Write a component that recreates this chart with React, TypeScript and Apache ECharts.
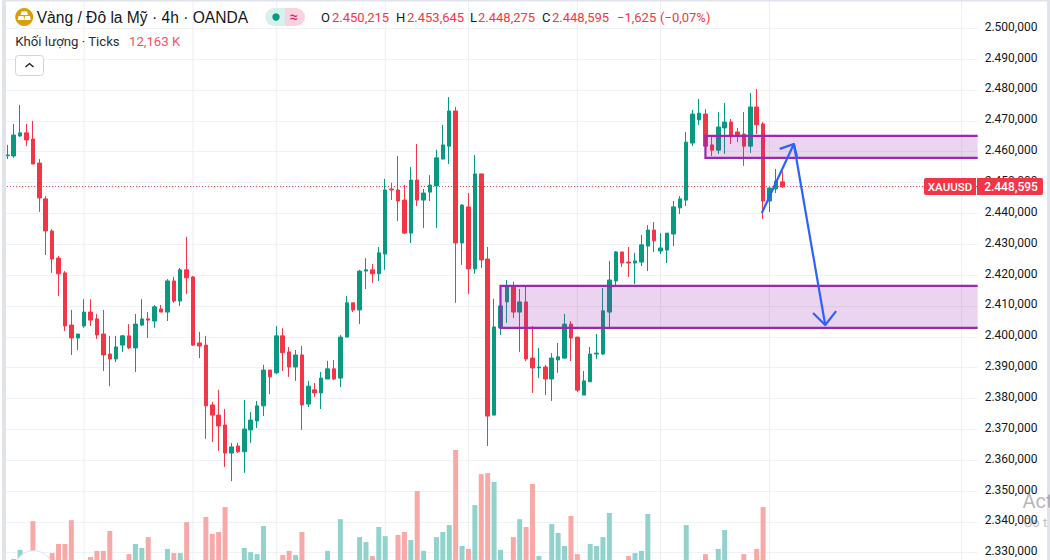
import React, { useEffect, useRef } from "react";
import * as echarts from "echarts";

const opens = [
  2458.7, 2458.6, 2465.1, 2466.1, 2464.1, 2456.3, 2444.7, 2434.3, 2425.5, 2420.7,
  2403.8, 2399.6, 2403.5, 2408.0, 2405.8, 2400.9, 2394.4, 2392.8, 2397.3, 2400.3,
  2396.4, 2403.8, 2405.8, 2405.1, 2409.0, 2408.0, 2418.1, 2411.6, 2421.7, 2419.4,
  2398.0, 2397.3, 2377.9, 2374.6, 2371.4, 2362.3, 2364.6, 2362.7, 2369.8, 2372.7,
  2377.6, 2389.2, 2388.3, 2400.3, 2395.1, 2390.2, 2394.1, 2378.2, 2382.8, 2381.8,
  2386.3, 2389.6, 2386.6, 2399.9, 2411.0, 2408.7, 2421.3, 2421.7, 2420.4, 2426.8,
  2447.9, 2447.6, 2444.3, 2433.6, 2450.8, 2444.3, 2446.9, 2448.9, 2457.6, 2461.8,
  2473.2, 2430.4, 2442.1, 2422.0, 2452.8, 2425.2, 2374.6, 2402.9, 2411.3, 2416.1,
  2408.0, 2411.3, 2393.1, 2389.9, 2390.2, 2386.3, 2392.5, 2393.1, 2404.1, 2399.9,
  2381.1, 2385.4, 2394.4, 2394.4, 2408.0, 2418.1, 2427.5, 2424.2, 2423.9, 2424.2,
  2429.4, 2434.6, 2427.8, 2428.1, 2433.3, 2441.8, 2444.3, 2462.8, 2470.3, 2472.2,
  2462.2, 2460.5, 2467.7, 2469.6, 2466.4, 2465.7, 2461.8, 2474.5, 2469.0, 2444.0,
  2447.9, 2450.215,
];
const closes = [
  2458.9, 2465.4, 2466.1, 2463.8, 2456.0, 2445.0, 2434.3, 2425.2, 2420.4, 2403.5,
  2399.6, 2400.9, 2408.0, 2405.4, 2400.6, 2394.1, 2392.8, 2396.7, 2400.3, 2396.4,
  2404.1, 2405.8, 2405.4, 2409.7, 2408.0, 2418.1, 2411.6, 2421.7, 2419.1, 2397.3,
  2397.0, 2377.6, 2374.6, 2371.1, 2362.3, 2364.3, 2362.7, 2370.1, 2373.0, 2377.6,
  2389.2, 2387.0, 2400.3, 2394.8, 2390.2, 2394.1, 2377.9, 2384.0, 2381.8, 2386.6,
  2389.6, 2386.3, 2399.9, 2411.0, 2408.7, 2421.3, 2421.7, 2420.4, 2427.2, 2447.6,
  2447.6, 2444.0, 2433.6, 2450.8, 2444.3, 2446.6, 2449.2, 2458.0, 2462.2, 2473.2,
  2430.4, 2442.7, 2422.0, 2452.8, 2424.9, 2374.3, 2403.2, 2410.0, 2416.1, 2408.0,
  2411.3, 2392.8, 2389.9, 2390.2, 2386.3, 2393.1, 2393.5, 2404.1, 2399.6, 2382.7,
  2385.7, 2394.4, 2394.7, 2408.4, 2418.4, 2427.5, 2423.9, 2423.9, 2424.6, 2429.8,
  2434.6, 2431.1, 2428.8, 2433.6, 2442.1, 2444.7, 2463.1, 2472.2, 2472.5, 2461.8,
  2460.5, 2468.0, 2469.6, 2464.8, 2465.1, 2461.8, 2474.5, 2468.7, 2444.0, 2448.2,
  2450.5, 2448.595,
];
const lows = [
  2457.6, 2458.0, 2464.8, 2461.8, 2456.0, 2440.5, 2426.5, 2420.7, 2413.2, 2401.9,
  2394.1, 2395.7, 2402.9, 2403.5, 2399.3, 2388.9, 2384.0, 2391.8, 2395.1, 2396.0,
  2388.6, 2403.5, 2399.6, 2402.9, 2408.0, 2405.1, 2411.0, 2410.0, 2413.9, 2397.0,
  2393.1, 2366.9, 2365.9, 2363.0, 2357.8, 2353.2, 2362.3, 2355.9, 2365.6, 2370.4,
  2374.3, 2381.4, 2387.9, 2388.9, 2387.0, 2385.7, 2369.8, 2377.2, 2380.5, 2376.6,
  2386.3, 2386.0, 2383.7, 2399.9, 2408.0, 2404.1, 2415.5, 2417.4, 2418.1, 2421.7,
  2444.3, 2437.5, 2433.3, 2430.4, 2442.4, 2435.3, 2444.0, 2435.3, 2457.6, 2456.0,
  2411.0, 2423.3, 2413.9, 2420.4, 2422.3, 2364.6, 2374.6, 2400.6, 2404.5, 2406.1,
  2395.1, 2392.1, 2381.8, 2386.6, 2381.1, 2379.2, 2388.3, 2392.8, 2392.1, 2382.1,
  2381.1, 2385.4, 2392.8, 2394.1, 2402.5, 2416.2, 2422.6, 2419.4, 2417.1, 2422.9,
  2421.3, 2427.5, 2426.8, 2423.9, 2429.4, 2439.8, 2442.4, 2461.8, 2468.6, 2461.8,
  2458.6, 2459.3, 2459.3, 2462.5, 2463.1, 2455.4, 2459.6, 2465.7, 2438.2, 2440.4,
  2446.6, 2448.275,
];
const highs = [
  2462.2, 2469.0, 2475.1, 2469.0, 2470.0, 2457.6, 2445.6, 2434.9, 2426.2, 2421.3,
  2408.7, 2400.9, 2412.2, 2412.2, 2407.4, 2408.7, 2400.3, 2400.3, 2400.6, 2404.1,
  2407.4, 2412.2, 2408.0, 2410.3, 2410.3, 2418.7, 2419.4, 2422.3, 2432.4, 2419.7,
  2401.6, 2400.3, 2378.9, 2382.8, 2376.6, 2365.6, 2365.6, 2379.5, 2375.6, 2379.2,
  2390.9, 2389.2, 2403.5, 2402.8, 2396.7, 2395.7, 2397.0, 2385.7, 2385.0, 2388.6,
  2392.2, 2392.5, 2400.6, 2413.2, 2411.0, 2421.7, 2425.5, 2423.6, 2429.1, 2451.2,
  2449.9, 2458.6, 2449.2, 2455.0, 2462.5, 2447.9, 2452.4, 2460.6, 2468.7, 2477.7,
  2474.5, 2443.0, 2446.6, 2458.9, 2452.8, 2429.1, 2412.3, 2413.2, 2418.4, 2417.8,
  2415.5, 2416.5, 2403.5, 2396.4, 2390.9, 2394.7, 2398.0, 2407.4, 2405.1, 2399.9,
  2388.9, 2396.7, 2400.9, 2415.8, 2424.6, 2427.8, 2427.5, 2429.1, 2427.2, 2433.0,
  2436.2, 2437.2, 2433.6, 2433.6, 2444.0, 2445.6, 2466.4, 2473.5, 2477.1, 2473.8,
  2465.1, 2472.9, 2475.8, 2470.6, 2467.7, 2472.9, 2479.0, 2480.3, 2469.6, 2448.6,
  2454.4, 2453.645,
];
const volumes = [
  16, 20.7, 24.4, 23.1, 36.1, 23.5, 21.9, 23.1, 26.8, 26.8,
  36.5, 15, 17, 21.5, 24.0, 24.0, 32.1, 18, 19, 22.7,
  26.8, 25.2, 29.6, 18, 16, 24.8, 23.1, 23.1, 35.7, 19,
  16, 37.8, 30.9, 31.7, 41.8, 18, 17, 25.2, 23.5, 22.7,
  34.1, 14, 19, 22.3, 24.0, 22.3, 31.7, 19, 13, 18,
  24.0, 14, 36.9, 20, 12, 29.6, 27.6, 21.9, 33.7, 30.0,
  15, 30.5, 31.7, 28.4, 48.3, 24.0, 19, 29.6, 31.7, 34.5,
  65.0, 26.0, 24.8, 42.6, 55.2, 55.6, 52.0, 24.4, 19, 29.6,
  36.9, 33.7, 51.2, 21.9, 18, 34.9, 31.3, 26.0, 38.2, 22.7,
  17, 26.8, 26.0, 29.6, 39.4, 16, 14, 21.9, 23.1, 24.0,
  39.0, 15, 12, 13, 16, 14, 34.5, 18, 15, 22.7,
  13, 24.8, 32.5, 15, 13, 22.7, 19, 24.8, 41.8, 17,
  14, 12.163,
];

const BAR_SLOTS = 152;
const categories = Array.from({ length: BAR_SLOTS }, (_, i) => String(i));
const timeGridBars = [12, 29, 42, 59, 72, 89, 102, 119, 149];

const zoneStarts = [77, 109];
const zoneTops = [2416.5, 2465.1];
const zoneBottoms = [2402.9, 2458.0];

const arrowStrokes: number[][][] = [
  [[117.8, 2440.1], [122.8, 2462.5]],
  [[120.6, 2460.9], [122.8, 2462.5], [123.3, 2458.3]],
  [[122.8, 2462.5], [127.7, 2403.8]],
  [[125.8, 2407.7], [127.7, 2403.8], [129.4, 2408.3]],
];

const symbolTitle = "Vàng / Đô la Mỹ · 4h · OANDA";
const volumeTitle = "Khối lượng · Ticks";
const volumeLast = "12,163 K";
const changeText = "−1,625";
const changePctText = "(−0,07%)";
const tickerTag = "XAUUSD";

const RED = "#f23645";
const GREEN = "#089981";
const INK = "#131722";
const FRAME = "#e0e3eb";
const FONT = "Roboto, sans-serif";

function priceText(v: number): string {
  const [a, b] = v.toFixed(3).split(".");
  return a.slice(0, -3) + "." + a.slice(-3) + "," + b;
}

const last = opens.length - 1;

function label(x: number, y: number, text: string, fill: string, size = 13, extra: any = {}) {
  return {
    type: "text",
    x,
    y,
    z: 50,
    silent: true,
    style: { text, fill, font: `${size}px ${FONT}`, verticalAlign: "middle", ...extra },
  };
}

export default function App() {
  const ref = useRef<HTMLDivElement>(null);
  useEffect(() => {
    const chart = echarts.init(ref.current!, undefined, { renderer: "svg" });
    const ohlc = opens.map((o, i) => [o, closes[i], lows[i], highs[i]]);

    const lerpPoint = (api: any, idx: number, price: number) => {
      const base = Math.floor(idx);
      const a = api.coord([base, price]);
      const b = api.coord([base + 1, price]);
      return [a[0] + (b[0] - a[0]) * (idx - base), a[1]];
    };

    chart.setOption({
      animation: false,
      backgroundColor: "#ffffff",
      grid: [
        { left: 4.1, width: 973.56, top: 28.3, height: 524.4, containLabel: false },
        { left: 4.1, width: 973.56, top: 450, height: 110, containLabel: false },
      ],
      xAxis: [
        {
          type: "category",
          data: categories,
          gridIndex: 0,
          axisLine: { show: false },
          axisTick: { show: false },
          axisLabel: { show: false },
          splitLine: { show: false },
        },
        {
          type: "category",
          data: categories,
          gridIndex: 1,
          axisLine: { show: false },
          axisTick: { show: false },
          axisLabel: { show: false },
          splitLine: { show: false },
        },
      ],
      yAxis: [
        {
          type: "value",
          gridIndex: 0,
          position: "right",
          min: 2330,
          max: 2500,
          interval: 10,
          axisLine: { show: false },
          axisTick: { show: false },
          axisLabel: {
            color: INK,
            fontSize: 12,
            fontFamily: FONT,
            margin: 7,
            verticalAlign: "bottom",
            lineHeight: 3,
            formatter: (v: number) => priceText(v),
          },
          splitLine: { show: true, lineStyle: { color: "#f0f1f4", width: 1 } },
        },
        {
          type: "value",
          gridIndex: 1,
          min: 20.3,
          max: 65,
          show: false,
          splitLine: { show: false },
        },
      ],
      series: [
        {
          type: "custom",
          name: "timeGrid",
          xAxisIndex: 0,
          yAxisIndex: 0,
          z: 0,
          silent: true,
          clip: false,
          data: timeGridBars.map((b) => [b, 2400]),
          renderItem: (_p: any, api: any) => {
            const x = api.coord([api.value(0), api.value(1)])[0];
            return {
              type: "line",
              shape: { x1: x, y1: 0, x2: x, y2: api.getHeight() },
              style: { stroke: "#edeef2", lineWidth: 1 },
            };
          },
        },
        {
          type: "bar",
          name: "Volume",
          xAxisIndex: 1,
          yAxisIndex: 1,
          barWidth: 5,
          z: 1,
          silent: true,
          clip: true,
          data: volumes.map((v, i) => ({
            value: v,
            itemStyle: { color: closes[i] < opens[i] ? "#f7a9a7" : "#92d2cc" },
          })),
        },
        {
          type: "custom",
          name: "lastPrice",
          xAxisIndex: 0,
          yAxisIndex: 0,
          z: 1,
          silent: true,
          data: [[last, closes[last]]],
          renderItem: (params: any, api: any) => {
            const y = Math.floor(api.coord([api.value(0), api.value(1)])[1]) + 0.5;
            return {
              type: "line",
              shape: {
                x1: params.coordSys.x,
                y1: y,
                x2: params.coordSys.x + params.coordSys.width,
                y2: y,
              },
              style: { stroke: RED, lineWidth: 1, lineDash: [1, 2] },
            };
          },
        },
        {
          type: "candlestick",
          name: "XAUUSD",
          xAxisIndex: 0,
          yAxisIndex: 0,
          barWidth: 4,
          z: 2,
          silent: true,
          data: ohlc,
          itemStyle: {
            color: GREEN,
            color0: RED,
            borderColor: GREEN,
            borderColor0: RED,
            borderWidth: 1,
          },
        },
        {
          type: "custom",
          name: "zones",
          xAxisIndex: 0,
          yAxisIndex: 0,
          z: 3,
          silent: true,
          data: zoneStarts.map((s, i) => [s, zoneTops[i], zoneBottoms[i]]),
          renderItem: (params: any, api: any) => {
            const left = api.coord([api.value(0), api.value(1)])[0];
            const top = api.coord([api.value(0), api.value(1)])[1];
            const bottom = api.coord([api.value(0), api.value(2)])[1];
            const right = params.coordSys.x + params.coordSys.width;
            return {
              type: "group",
              children: [
                {
                  type: "rect",
                  shape: { x: left, y: top, width: right - left, height: bottom - top },
                  style: { fill: "rgba(156,39,176,0.2)" },
                },
                {
                  type: "polyline",
                  shape: { points: [[right, top], [left, top], [left, bottom], [right, bottom]] },
                  style: { stroke: "#9c27b0", lineWidth: 2.2, fill: "none" },
                },
              ],
            };
          },
        },
        {
          type: "custom",
          name: "arrows",
          xAxisIndex: 0,
          yAxisIndex: 0,
          z: 4,
          silent: true,
          data: arrowStrokes.map((s) => [Math.round(s[0][0]), s[0][1]]),
          renderItem: (params: any, api: any) => ({
            type: "polyline",
            shape: {
              points: arrowStrokes[params.dataIndex].map((p) => lerpPoint(api, p[0], p[1])),
            },
            style: { stroke: "#2962ff", lineWidth: 2.2, fill: "none", lineJoin: "round" },
          }),
        },
      ],
      graphic: [
        // frame
        { type: "rect", z: 40, silent: true, shape: { x: 2, y: 0, width: 4, height: 560 }, style: { fill: FRAME } },
        { type: "rect", z: 40, silent: true, shape: { x: 2, y: 0, width: 1048, height: 1.5 }, style: { fill: FRAME } },
        { type: "rect", z: 40, silent: true, shape: { x: 1047, y: 0, width: 3, height: 560 }, style: { fill: FRAME } },
        // logo button at the bottom left
        { type: "circle", z: 41, silent: true, shape: { cx: 33.7, cy: 570, r: 19.3 }, style: { fill: "#ffffff", stroke: FRAME, lineWidth: 1 } },
        // symbol icon
        { type: "circle", z: 50, silent: true, shape: { cx: 24.2, cy: 17, r: 9 }, style: { fill: "#d9a004" } },
        { type: "polygon", z: 51, silent: true, shape: { points: [[21.5, 11.5], [27, 11.5], [28, 15], [20.5, 15]] }, style: { fill: "#ffffff" } },
        { type: "polygon", z: 51, silent: true, shape: { points: [[18.5, 16], [23.5, 16], [24.2, 20], [17.7, 20]] }, style: { fill: "#ffffff" } },
        { type: "polygon", z: 51, silent: true, shape: { points: [[25, 16], [30, 16], [30.8, 20], [24.3, 20]] }, style: { fill: "#ffffff" } },
        label(36.7, 17, symbolTitle, INK, 16, { font: `15.6px "Liberation Sans", Arial, sans-serif` }),
        // status pill
        { type: "rect", z: 50, silent: true, shape: { x: 265, y: 8, width: 20, height: 18, r: [9, 0, 0, 9] }, style: { fill: "#d8f0ec" } },
        { type: "rect", z: 50, silent: true, shape: { x: 285, y: 8, width: 20, height: 18, r: [0, 9, 9, 0] }, style: { fill: "#fad1de" } },
        { type: "circle", z: 51, silent: true, shape: { cx: 276, cy: 17, r: 3.7 }, style: { fill: GREEN } },
        label(289.5, 17, "≈", "#d81b60", 15),
        // OHLC
        label(321, 17, "O", INK),
        label(332, 17, priceText(opens[last]), RED),
        label(396, 17, "H", INK),
        label(407, 17, priceText(highs[last]), RED),
        label(470, 17, "L", INK),
        label(478, 17, priceText(lows[last]), RED),
        label(542, 17, "C", INK),
        label(552, 17, priceText(closes[last]), RED),
        label(617, 17, changeText, RED),
        label(660, 17, changePctText, RED),
        // volume legend
        label(15.3, 41, volumeTitle, "#2a2e39", 13.2),
        label(129, 41, volumeLast, "#f7525f", 13.2),
        // collapse button
        { type: "rect", z: 50, silent: true, shape: { x: 15.5, y: 55.5, width: 28, height: 20, r: 3 }, style: { fill: "#ffffff", stroke: "#d1d4dc", lineWidth: 1 } },
        { type: "polyline", z: 51, silent: true, shape: { points: [[25.5, 67], [29.5, 63.5], [33.5, 67]] }, style: { stroke: INK, lineWidth: 1.3, fill: "none" } },
        // last price tags
        { type: "rect", z: 50, silent: true, shape: { x: 924, y: 178, width: 52, height: 17, r: [2, 0, 0, 2] }, style: { fill: RED } },
        { type: "rect", z: 50, silent: true, shape: { x: 977, y: 178, width: 66, height: 17, r: [0, 2, 2, 0] }, style: { fill: RED } },
        label(950, 186.8, tickerTag, "#ffffff", 11, { align: "center", font: `500 11.5px ${FONT}` }),
        label(1011, 186.8, priceText(closes[last]), "#ffffff", 12, { align: "center", font: `500 12px ${FONT}` }),
        // desktop watermark
        { type: "text", z: 60, silent: true, x: 1022.5, y: 500.5, style: { text: "Act", fill: "rgba(110,110,110,0.5)", font: `20px ${FONT}`, verticalAlign: "middle" } },
        { type: "text", z: 60, silent: true, x: 1023.5, y: 522.5, style: { text: "Go t", fill: "rgba(110,110,110,0.45)", font: `13px ${FONT}`, verticalAlign: "middle" } },
      ],
    });
    return () => chart.dispose();
  }, []);
  return (
    <div
      ref={ref}
      style={{ position: "absolute", left: 0, top: 0, width: 1050, height: 560, overflow: "hidden" }}
    />
  );
}
